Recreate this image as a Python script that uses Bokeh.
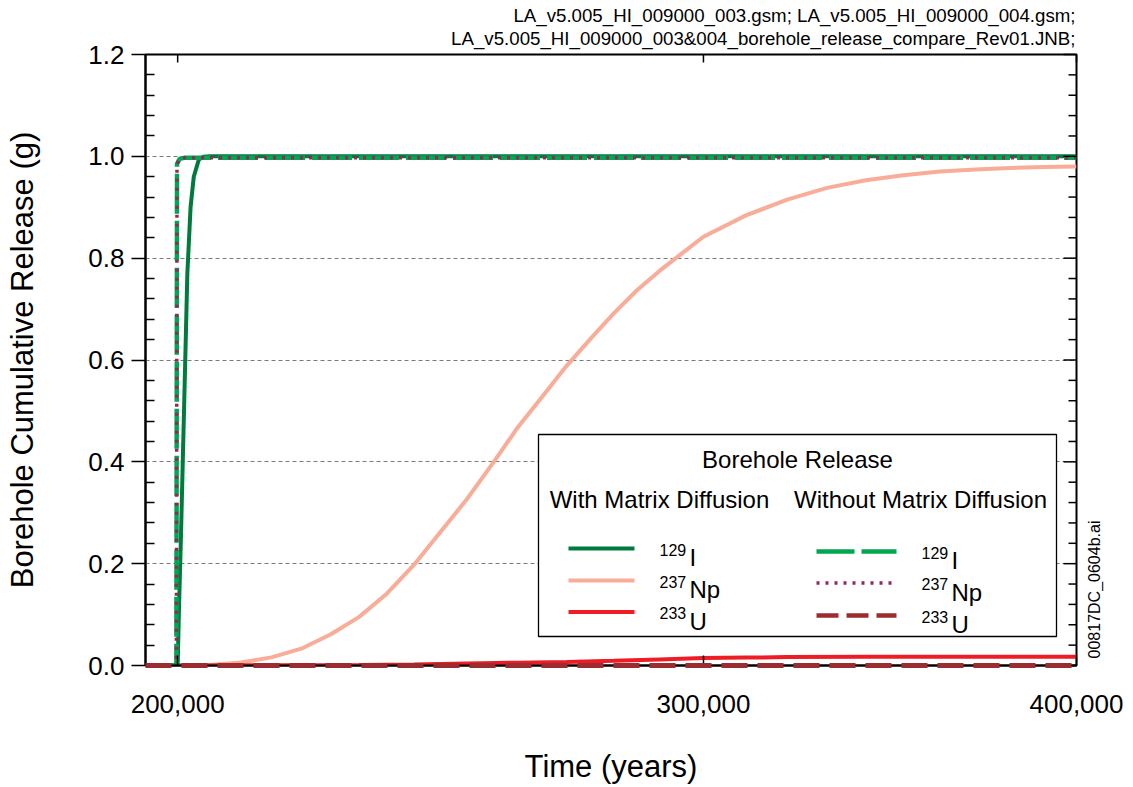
import math
from bokeh.plotting import figure
from bokeh.models import FixedTicker, NumeralTickFormatter, Label, Range1d
from bokeh.core.properties import value
from bokeh.embed import file_html
from bokeh.resources import INLINE

FONT = "Liberation Sans"

# ---- axis ticks -------------------------------------------------------------
time_ticks = [200000, 300000, 400000]
release_ticks = [0.0, 0.2, 0.4, 0.6, 0.8, 1.0, 1.2]
release_minor = [round(0.04 * k, 2) for k in range(31) if k % 5]
grid_ticks = [0.2, 0.4, 0.6, 0.8, 1.0]

# ---- with matrix diffusion --------------------------------------------------
t_i129_md = [190000, 200000, 200200, 200500, 200750, 201000, 201250, 201500,
             202000, 202500, 203300, 204000, 205000, 400000]
g_i129_md = [0.0, 0.0, 0.11, 0.25, 0.38, 0.51, 0.64, 0.77,
             0.90, 0.96, 0.994, 0.999, 1.0, 1.0]

t_np237_md = [190000, 200000, 205000, 210000, 215000, 220000, 225000, 230000,
              235000, 240000, 245000, 250000, 255000, 260000, 265000, 270000,
              275000, 280000, 285000, 290000, 295000, 300000, 310000, 320000,
              330000, 340000, 350000, 360000, 370000, 380000, 390000, 400000]
g_np237_md = [0.0, 0.0, 0.001, 0.006, 0.016, 0.033, 0.061, 0.095,
              0.141, 0.198, 0.263, 0.327, 0.397, 0.468, 0.529, 0.589,
              0.642, 0.692, 0.737, 0.775, 0.809, 0.842, 0.884, 0.915,
              0.938, 0.953, 0.963, 0.970, 0.974, 0.977, 0.979, 0.980]

t_u233_md = [190000, 200000, 220000, 230000, 240000, 250000, 260000, 270000,
             280000, 290000, 300000, 310000, 320000, 340000, 400000]
g_u233_md = [0.0, 0.0, 0.0005, 0.001, 0.002, 0.004, 0.0055, 0.007,
             0.0095, 0.012, 0.0145, 0.0155, 0.0165, 0.017, 0.017]

# ---- without matrix diffusion -----------------------------------------------
t_i129_nomd = [190000, 199800, 199900, 200300, 201000, 400000]
g_i129_nomd = [0.0, 0.0, 0.985, 0.995, 0.997, 0.997]

t_np237_nomd = [190000, 199800, 199900, 200300, 201000, 400000]
g_np237_nomd = [0.0, 0.0, 0.985, 0.995, 0.997, 0.997]

t_u233_nomd = [195100, 400000]
g_u233_nomd = [0.0, 0.0]

# ---- colours ----------------------------------------------------------------
C_I_MD = "#007A3D"
C_NP_MD = "#F9AC98"
C_U_MD = "#EE1C25"
C_I_NO = "#00A650"
C_NP_NO = "#92275B"
C_U_NO = "#9B2D30"

X0, X1 = 195100, 400000
Y0, Y1 = 0.0, 1.2
FW, FH = 931, 611
BL, BR, BT, BB = 145, 57, 54, 122

p = figure(frame_width=FW, frame_height=FH, x_axis_type="log",
           x_range=Range1d(X0, X1), y_range=Range1d(Y0, Y1),
           output_backend="svg", toolbar_location=None,
           min_border_left=BL, min_border_right=BR,
           min_border_top=BT, min_border_bottom=BB,
           background_fill_color="white", border_fill_color="white")
p.outline_line_color = "black"
p.outline_line_width = 2


# page position -> data position helpers (legend, notes, inner ticks)
def fx(px):
    lo, hi = math.log10(X0), math.log10(X1)
    return 10 ** (lo + (px - BL) / FW * (hi - lo))


def fy(py):
    return Y0 + (BT + FH - py) / FH * (Y1 - Y0)


# ---- axes -------------------------------------------------------------------
xa = p.xaxis[0]
xa.ticker = FixedTicker(ticks=time_ticks, minor_ticks=[])
xa.formatter = NumeralTickFormatter(format="0,0")
xa.major_tick_in = 10
xa.major_tick_out = 0
xa.minor_tick_in = 0
xa.minor_tick_out = 0
xa.axis_line_width = 2
xa.major_tick_line_width = 1.5
xa.major_label_text_font = FONT
xa.major_label_text_font_size = "26px"
xa.major_label_text_color = "black"
xa.major_label_standoff = 29
xa.axis_label = "Time (years)"
xa.axis_label_text_font = FONT
xa.axis_label_text_font_size = "31px"
xa.axis_label_text_font_style = "normal"
xa.axis_label_text_color = "black"
xa.axis_label_standoff = 33

ya = p.yaxis[0]
ya.ticker = FixedTicker(ticks=release_ticks, minor_ticks=release_minor)
ya.formatter = NumeralTickFormatter(format="0.0")
ya.major_tick_in = 0
ya.major_tick_out = 14
ya.minor_tick_in = 9
ya.minor_tick_out = 0
ya.axis_line_width = 2
ya.major_tick_line_width = 1.5
ya.minor_tick_line_width = 1.5
ya.major_label_text_font = FONT
ya.major_label_text_font_size = "26px"
ya.major_label_text_color = "black"
ya.major_label_standoff = 7
ya.axis_label = "Borehole Cumulative Release (g)"
ya.axis_label_text_font = FONT
ya.axis_label_text_font_size = "31px"
ya.axis_label_text_font_style = "normal"
ya.axis_label_text_color = "black"
ya.axis_label_standoff = 45

p.xgrid.grid_line_color = None
p.ygrid.ticker = FixedTicker(ticks=grid_ticks)
p.ygrid.grid_line_color = "#7a7a7a"
p.ygrid.grid_line_dash = "4 3"
p.ygrid.grid_line_width = 1

# inward ticks on the top and right edges of the frame
rx_major, rx_minor = fx(BL + FW - 13), fx(BL + FW - 8)
p.segment(x0=[rx_major] * len(release_ticks), x1=[X1] * len(release_ticks),
          y0=release_ticks, y1=release_ticks,
          line_color="black", line_width=1.5, level="overlay")
p.segment(x0=[rx_minor] * len(release_minor), x1=[X1] * len(release_minor),
          y0=release_minor, y1=release_minor,
          line_color="black", line_width=1.5, level="overlay")
p.segment(x0=time_ticks, x1=time_ticks,
          y0=[fy(BT + 8)] * len(time_ticks), y1=[Y1] * len(time_ticks),
          line_color="black", line_width=1.5, level="overlay")

# ---- curves -----------------------------------------------------------------
p.line(t_np237_md, g_np237_md, line_color=C_NP_MD, line_width=4, line_join="round")
p.line(t_u233_md, g_u233_md, line_color=C_U_MD, line_width=4)
p.line(t_i129_md, g_i129_md, line_color=C_I_MD, line_width=4, line_join="round")
p.line(t_i129_nomd, g_i129_nomd, line_color=C_I_NO, line_width=4.5,
       line_dash="40 7", line_join="round")
p.line(t_np237_nomd, g_np237_nomd, line_color=C_NP_NO, line_width=3.5,
       line_dash="3 6", line_join="round")
# drawn above the axis line, like the original plot
p.line(t_u233_nomd, g_u233_nomd, line_color=C_U_NO, line_width=5,
       line_dash="26 10", level="overlay")

# ---- legend -----------------------------------------------------------------
p.quad(left=[fx(538)], right=[fx(1056)], top=[fy(434)], bottom=[fy(636)],
       fill_color="white", line_color="black", line_width=1.3)


def text(px, py, s, size, align="left", baseline="alphabetic"):
    p.add_layout(Label(x=fx(px), y=fy(py), text=s, text_font=FONT,
                       text_font_size=size, text_align=align,
                       text_baseline=baseline, text_color="black"))


def note(px, py, s, size, align="left", angle=0.0):
    # free text outside the frame: an unclipped text glyph
    p.text(x=[fx(px)], y=[fy(py)], text=[s], angle=angle,
           text_font=value(FONT), text_font_size=value(size),
           text_align=align, text_baseline="middle", text_color="black",
           level="overlay")


text(797, 459, "Borehole Release", "24px", "center", "middle")
text(659, 499, "With Matrix Diffusion", "24px", "center", "middle")
text(920, 499, "Without Matrix Diffusion", "24px", "center", "middle")

isotopes = [("129", "I"), ("237", "Np"), ("233", "U")]
left_styles = [(C_I_MD, None, 4), (C_NP_MD, None, 4), (C_U_MD, None, 4)]
right_styles = [(C_I_NO, "38 7", 4.5), (C_NP_NO, "3 6", 3.5), (C_U_NO, "22 8", 4.5)]
left_rows = [548, 580, 611.5]
right_rows = [551, 582.5, 615]

for (mass, sym), (col, dash, lw), ly in zip(isotopes, left_styles, left_rows):
    kw = dict(line_dash=dash) if dash else {}
    p.line([fx(568), fx(634)], [fy(ly), fy(ly)], line_color=col, line_width=lw, **kw)
    text(659, ly + 1, mass, "16px")
    text(689, ly + 9, sym, "24px")

for (mass, sym), (col, dash, lw), ly in zip(isotopes, right_styles, right_rows):
    kw = dict(line_dash=dash) if dash else {}
    p.line([fx(816), fx(896)], [fy(ly), fy(ly)], line_color=col, line_width=lw, **kw)
    text(921, ly + 1, mass, "16px")
    text(951, ly + 9, sym, "24px")

# ---- file references --------------------------------------------------------
note(1075, 15, "LA_v5.005_HI_009000_003.gsm; LA_v5.005_HI_009000_004.gsm;",
     "18.7px", "right")
note(1075, 38, "LA_v5.005_HI_009000_003&004_borehole_release_compare_Rev01.JNB;",
     "18.7px", "right")
note(1094, 589, "00817DC_0604b.ai", "16px", "center", angle=math.pi / 2)

open("out.html", "w").write(file_html(p, INLINE))
